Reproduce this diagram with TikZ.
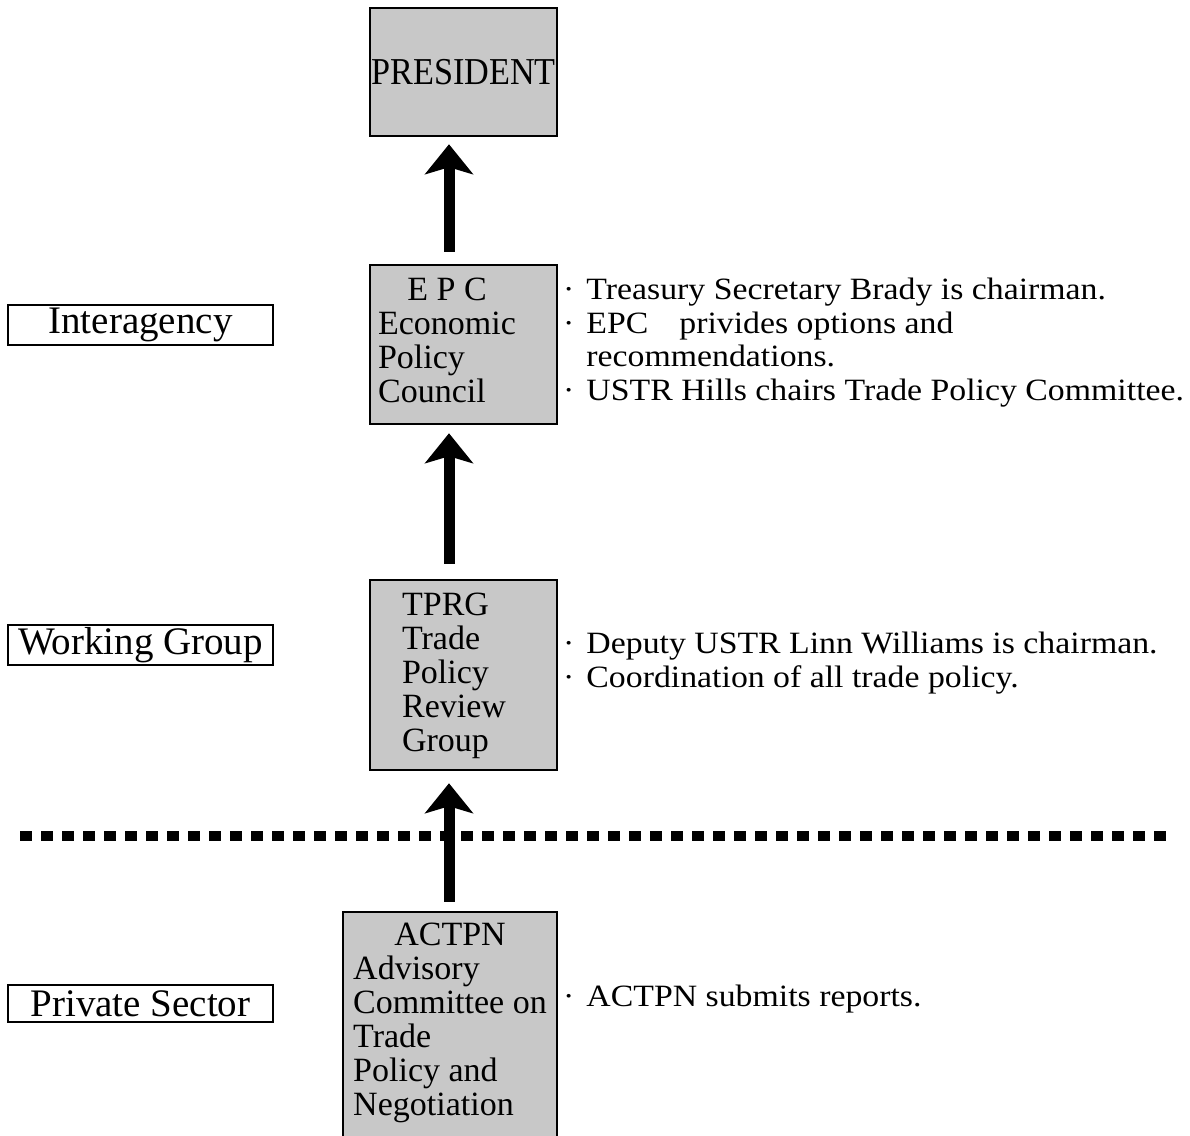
\documentclass[tikz,border=0pt]{standalone}
\usepackage{fontspec}
\setmainfont{Liberation Serif}
\newfontfamily\widefont{Liberation Serif}[FakeStretch=1.09]
\newfontfamily\narrowfont{Liberation Serif}[FakeStretch=0.9]
\usetikzlibrary{arrows.meta}
\definecolor{boxgray}{RGB}{200,200,200}
\tikzset{
  orgbox/.style={draw=black, fill=boxgray, line width=2.5pt, rectangle, inner sep=0pt},
  boxtext/.style={inner sep=0pt, font=\fontsize{34}{34}\selectfont},
  levelbox/.style={draw=black, line width=2pt, rectangle, inner sep=0pt, minimum width=265pt,
    font=\fontsize{39}{39}\selectfont},
  notetext/.style={anchor=west, inner sep=0pt, font=\widefont\fontsize{31}{33.5}\selectfont},
  uparrow/.style={line width=11pt, -{Stealth[length=30pt, width=48pt, inset=7pt]}},
  dotline/.style={line width=10pt, dash pattern=on 12pt off 9pt, line cap=butt}
}
\begin{document}
\begin{tikzpicture}[x=1pt, y=-1pt]
\useasboundingbox (0,0) rectangle (1190,1135);
% main boxes
\node[orgbox, minimum width=187pt, minimum height=128pt, font=\narrowfont\fontsize{38}{38}\selectfont] (pres) at (463.5,72) {PRESIDENT};
\node[orgbox, minimum width=187pt, minimum height=159pt] (epc) at (463.5,344.5) {};
\node[boxtext] (epct) at (447,344.5) {\begin{tabular}{@{}l@{}}\multicolumn{1}{@{}c@{}}{E P C}\\Economic\\Policy\\Council\end{tabular}};
\node[orgbox, minimum width=187pt, minimum height=190pt] (tprg) at (463.5,675) {};
\node[boxtext] (tprgt) at (454,677) {\begin{tabular}{@{}l@{}}TPRG\\Trade\\Policy\\Review\\Group\end{tabular}};
\node[orgbox, minimum width=214pt, minimum height=233pt] (actpn) at (450,1028.5) {};
\node[boxtext] (actpnt) at (450,1024) {\begin{tabular}{@{}l@{}}\multicolumn{1}{@{}c@{}}{ACTPN}\\Advisory\\Committee on\\Trade\\Policy and\\Negotiation\end{tabular}};
% level labels
\node[levelbox, minimum height=40pt] (inter) at (140.5,325) {Interagency};
\node[levelbox, minimum height=40pt] (work) at (140.5,645) {Working Group};
\node[levelbox, minimum height=37pt] (priv) at (140.5,1003.5) {Private Sector};
% notes
\node[notetext] (epcnote) at (563,343.5) {\begin{tabular}{@{}l@{\hspace{12pt}}l@{}}·&Treasury Secretary Brady is chairman.\\·&EPC\quad privides options and\\&recommendations.\\·&USTR Hills chairs Trade Policy Committee.\end{tabular}};
\node[notetext] (tprgnote) at (563,664) {\begin{tabular}{@{}l@{\hspace{12pt}}l@{}}·&Deputy USTR Linn Williams is chairman.\\·&Coordination of all trade policy.\end{tabular}};
\node[notetext] (actpnnote) at (563,1000) {\begin{tabular}{@{}l@{\hspace{12pt}}l@{}}·&ACTPN submits reports.\end{tabular}};
% dotted boundary
\coordinate (dl) at (20,836);
\coordinate (dr) at (1173,836);
\draw[dotline] (dl) -- (dr);
% arrows
\draw[uparrow, shorten <=12pt, shorten >=7pt] ([xshift=-14.5pt]epc.north) -- ([xshift=-14.5pt]pres.south);
\draw[uparrow, shorten <=15pt, shorten >=8pt] ([xshift=-14.5pt]tprg.north) -- ([xshift=-14.5pt]epc.south);
\draw[uparrow, shorten <=9pt, shorten >=12pt] ([xshift=-1pt]actpn.north) -- ([xshift=-14.5pt]tprg.south);
\end{tikzpicture}
\end{document}
